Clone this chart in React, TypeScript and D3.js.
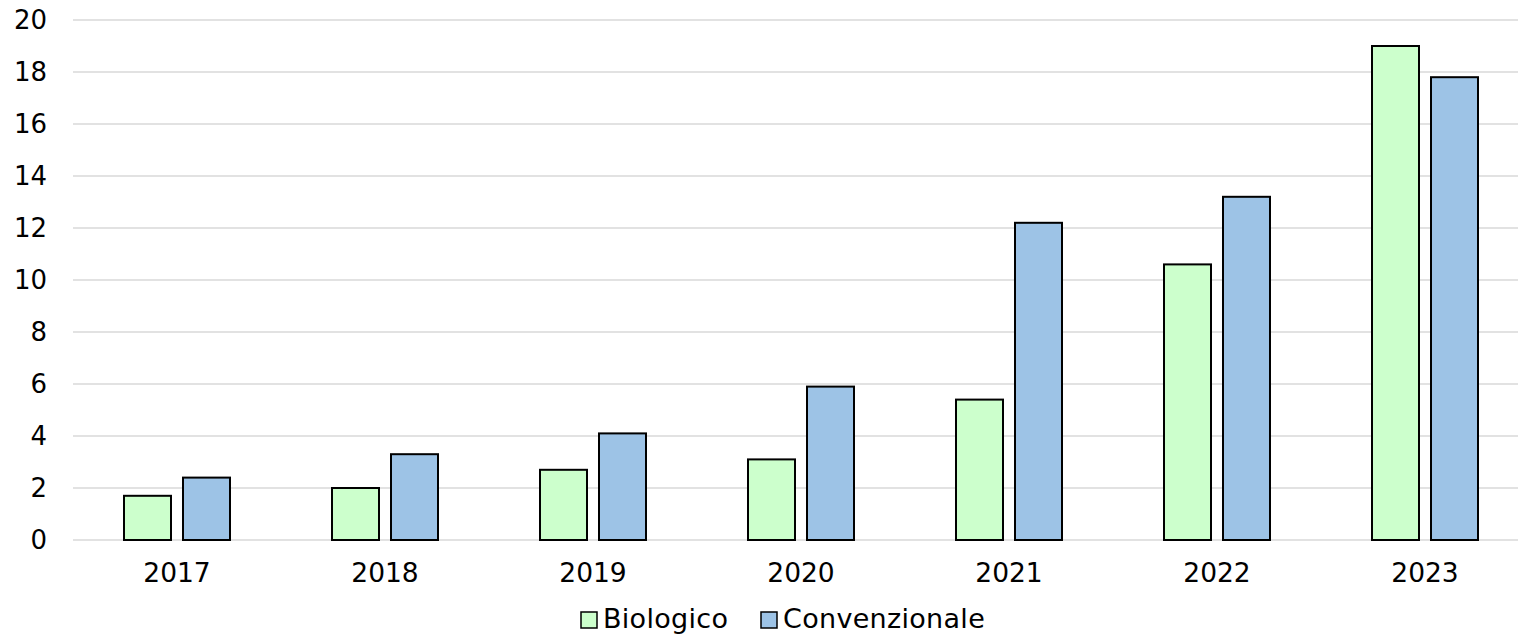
import React, { useEffect, useRef } from 'react';
import * as d3 from 'd3';

const years = ['2017', '2018', '2019', '2020', '2021', '2022', '2023'];
const seriesNames = ['Biologico', 'Convenzionale'];
const biologico = [1.7, 2.0, 2.7, 3.1, 5.4, 10.6, 19.0];
const convenzionale = [2.4, 3.3, 4.1, 5.9, 12.2, 13.2, 17.8];
const yTicks = [0, 2, 4, 6, 8, 10, 12, 14, 16, 18, 20];
const colours = ['#CCFFCC', '#9DC3E6'];

const W = 1518;
const H = 636;
const FONT = '"DejaVu Sans", Verdana, sans-serif';

export default function App() {
  const svgRef = useRef<SVGSVGElement | null>(null);

  useEffect(() => {
    if (!svgRef.current) return;
    const svg = d3.select(svgRef.current);
    svg.selectAll('*').remove();

    const left = 73;
    const top = 20;
    const bottom = 540;
    const step = 208;

    // Scales
    const x0 = d3.scaleBand<string>()
      .domain(years)
      .range([left, left + step * years.length])
      .paddingInner(0)
      .paddingOuter(0);

    const x1 = d3.scaleBand<string>()
      .domain(seriesNames)
      .range([0, x0.bandwidth()])
      .paddingInner(12 / 59)
      .paddingOuter(51 / 59);

    const y = d3.scaleLinear().domain([0, 20]).range([bottom, top]);

    // Gridlines
    svg.append('g')
      .selectAll('line')
      .data(yTicks)
      .enter()
      .append('line')
      .attr('x1', left)
      .attr('x2', W)
      .attr('y1', d => y(d))
      .attr('y2', d => y(d))
      .attr('stroke', '#d9d9d9')
      .attr('stroke-width', 1.5);

    // Y tick labels
    svg.append('g')
      .selectAll('text')
      .data(yTicks)
      .enter()
      .append('text')
      .attr('x', 47)
      .attr('y', d => y(d))
      .attr('dy', '0.36em')
      .attr('text-anchor', 'end')
      .style('font-family', FONT)
      .style('font-size', '26px')
      .style('fill', '#000')
      .text(d => d);

    // Bars
    const rows = years.map((yr, i) => ({ year: yr, values: [biologico[i], convenzionale[i]] }));
    const groups = svg.append('g')
      .selectAll('g')
      .data(rows)
      .enter()
      .append('g')
      .attr('transform', d => `translate(${x0(d.year)},0)`);

    groups.selectAll('rect')
      .data(d => d.values.map((v, j) => ({ key: seriesNames[j], v, j })))
      .enter()
      .append('rect')
      .attr('x', d => x1(d.key) as number)
      .attr('y', d => y(d.v))
      .attr('width', x1.bandwidth())
      .attr('height', d => bottom - y(d.v))
      .attr('fill', d => colours[d.j])
      .attr('stroke', '#000')
      .attr('stroke-width', 2);

    // X labels
    svg.append('g')
      .selectAll('text')
      .data(years)
      .enter()
      .append('text')
      .attr('x', d => (x0(d) as number) + x0.bandwidth() / 2)
      .attr('y', 582)
      .attr('text-anchor', 'middle')
      .style('font-family', FONT)
      .style('font-size', '26.5px')
      .style('fill', '#000')
      .text(d => d);

    // Legend
    const legendX = [581, 761];
    const legend = svg.append('g')
      .selectAll('g')
      .data(seriesNames)
      .enter()
      .append('g')
      .attr('transform', (d, i) => `translate(${legendX[i]},612)`);

    legend.append('rect')
      .attr('width', 16)
      .attr('height', 16)
      .attr('fill', (d, i) => colours[i])
      .attr('stroke', '#000')
      .attr('stroke-width', 1.5);

    legend.append('text')
      .attr('x', 22)
      .attr('y', 16)
      .style('font-family', FONT)
      .style('font-size', '27px')
      .style('letter-spacing', '0.3px')
      .style('fill', '#000')
      .text(d => d);
  }, []);

  return (
    <svg
      ref={svgRef}
      width={W}
      height={H}
      style={{ position: 'absolute', left: 0, top: 0, background: '#fff', overflow: 'hidden' }}
    />
  );
}
